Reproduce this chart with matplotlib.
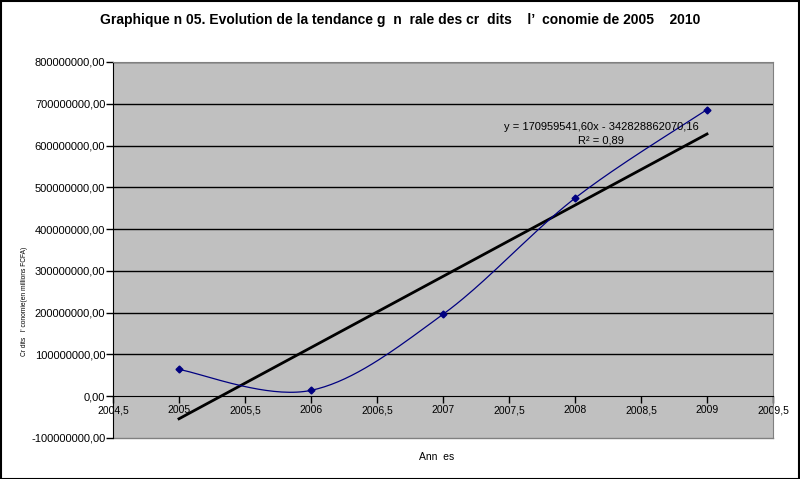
import numpy as np
import matplotlib
matplotlib.use("Agg")
import matplotlib.pyplot as plt
from matplotlib.patches import Rectangle

plt.rcParams['font.family'] = ['Liberation Sans', 'DejaVu Sans']

years = [2005, 2006, 2007, 2008, 2009]
credits = [64e6, 14e6, 196e6, 474e6, 686e6]
yticks = [-100e6, 0, 100e6, 200e6, 300e6, 400e6, 500e6, 600e6, 700e6, 800e6]
xticks = [2004.5, 2005, 2005.5, 2006, 2006.5, 2007, 2007.5, 2008, 2008.5, 2009, 2009.5]
title = "Graphique n 05. Evolution de la tendance g  n  rale des cr  dits    l’  conomie de 2005    2010"
xlabel = "Ann  es"
ylabel = "Cr dits   l' conomie(en millions FCFA)"
eq_text = "y = 170959541,60x - 342828862070,16"
r2_text = "R² = 0,89"


def fmt_num(v):
    return f"{v:.2f}".replace(".", ",")


def fmt_x(v):
    if float(v).is_integer():
        return str(int(v))
    return f"{v:.1f}".replace(".", ",")


def smooth(xs, ys, n=40):
    P = np.column_stack([xs, ys]).astype(float)
    m = len(P)
    out = []
    for i in range(m - 1):
        p0 = P[max(i - 1, 0)]
        p1 = P[i]
        p2 = P[i + 1]
        p3 = P[min(i + 2, m - 1)]
        c1 = p1 + (p2 - p0) / 6.0
        c2 = p2 - (p3 - p1) / 6.0
        t = np.linspace(0, 1, n)[:, None]
        seg = ((1 - t) ** 3) * p1 + 3 * ((1 - t) ** 2) * t * c1 + 3 * (1 - t) * t ** 2 * c2 + t ** 3 * p2
        out.append(seg if i == 0 else seg[1:])
    out = np.vstack(out)
    return out[:, 0], out[:, 1]


fig = plt.figure(figsize=(8, 4.79), dpi=100)
fig.patch.set_facecolor('white')
fig.patches.append(Rectangle((0.001, 0.001), 0.998, 0.997, transform=fig.transFigure,
                             fill=False, edgecolor='black', linewidth=1.5))

ax = fig.add_axes([0.14125, 0.0856, 0.825, 0.785])
ax.set_facecolor('#C0C0C0')
ax.set_xlim(2004.5, 2009.5)
ax.set_ylim(-100e6, 800e6)

for y in yticks[2:]:
    ax.axhline(y, color='black', linewidth=1.0, zorder=1)

sx, sy = smooth(years, credits)
ax.plot(sx, sy, color='#000080', linewidth=0.9, zorder=3)
ax.plot(years, credits, linestyle='none', marker='D', markersize=3.5,
        color='#000080', zorder=4)

coef = np.polyfit(years, credits, 1)
tx = np.array([years[0], years[-1]])
ax.plot(tx, np.polyval(coef, tx), color='black', linewidth=2.0, zorder=2)

ax.text(2008.2, 644e6, eq_text, ha='center', va='center', fontsize=8)
ax.text(2008.2, 611e6, r2_text, ha='center', va='center', fontsize=8)

ax.spines['left'].set_color('black')
ax.spines['bottom'].set_position(('data', 0))
ax.spines['bottom'].set_color('black')
ax.spines['top'].set_color('#808080')
ax.spines['right'].set_color('#808080')
ax.plot([2004.5, 2009.5], [-100e6, -100e6], color='#808080', linewidth=1, clip_on=False, zorder=0)

ax.set_yticks(yticks)
ax.set_yticklabels([fmt_num(v) for v in yticks], fontsize=8)
ax.set_xticks(xticks)
ax.set_xticklabels([fmt_x(v) for v in xticks], fontsize=7.5)
ax.tick_params(axis='y', direction='out', length=5, width=1, pad=0.5)
ax.tick_params(axis='x', direction='out', length=5, width=1, pad=1.5)

fig.text(0.5, 0.958, title, ha='center', va='center', fontsize=10, fontweight='bold')
fig.text(0.546, 0.046, xlabel, ha='center', va='center', fontsize=7.5)
fig.text(0.031, 0.37, ylabel, ha='center', va='center', fontsize=4.8, rotation=90)

fig.savefig('out.png', dpi=100)
